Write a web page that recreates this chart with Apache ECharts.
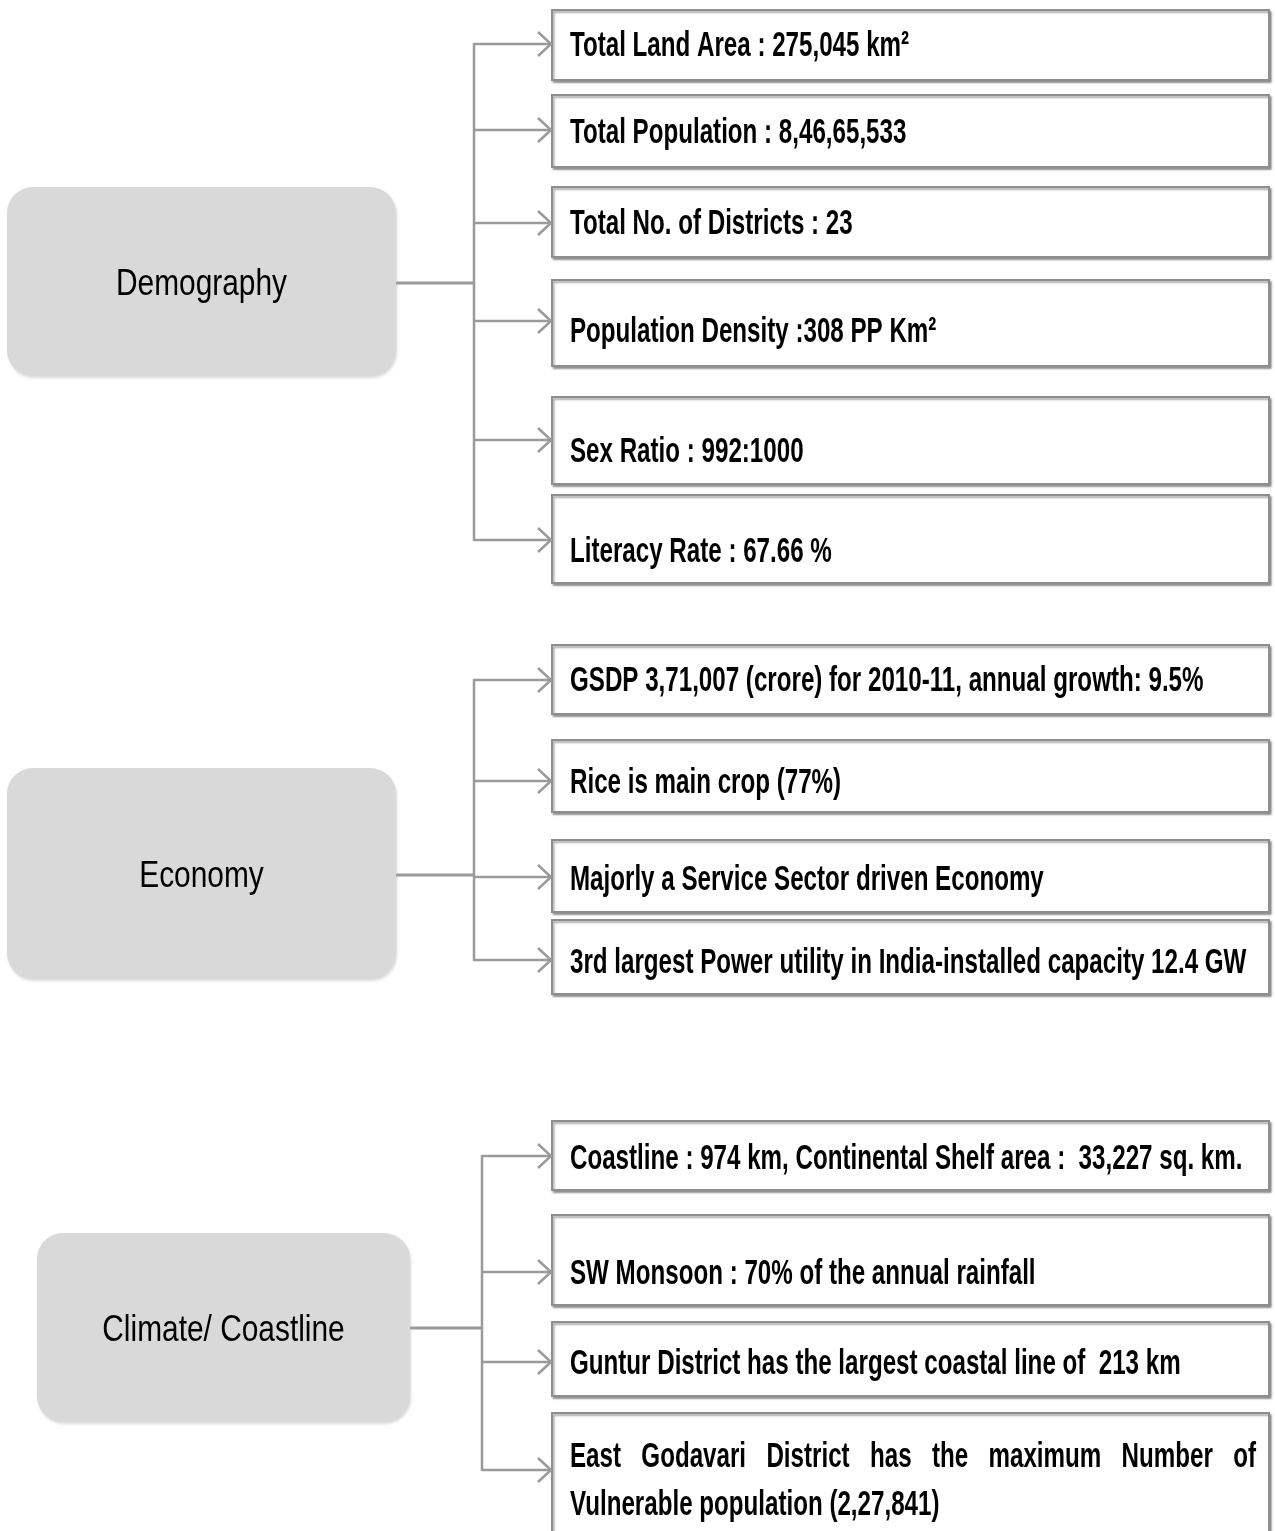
<!DOCTYPE html>
<html>
<head>
<meta charset="utf-8">
<script src="https://cdn.jsdelivr.net/npm/echarts@6/dist/echarts.min.js"></script>
<style>
html,body{margin:0;padding:0;background:#fff;}
#chart{width:1275px;height:1531px;}
</style>
</head>
<body>
<div id="chart"></div>
<script>
// ---------------- DATA ----------------
const groupNames = ['Demography', 'Economy', 'Climate/ Coastline'];
const demographyItems = [
  'Total Land Area : 275,045 km\u00B2',
  'Total Population : 8,46,65,533',
  'Total No. of Districts : 23',
  'Population Density :308 PP Km\u00B2',
  'Sex Ratio : 992:1000',
  'Literacy Rate : 67.66 %'
];
const economyItems = [
  'GSDP 3,71,007 (crore) for 2010-11, annual growth: 9.5%',
  'Rice is main crop (77%)',
  'Majorly a Service Sector driven Economy',
  '3rd largest Power utility in India-installed capacity 12.4 GW'
];
const climateItems = [
  'Coastline : 974 km, Continental Shelf area :  33,227 sq. km.',
  'SW Monsoon : 70% of the annual rainfall',
  'Guntur District has the largest coastal line of  213 km',
  'East Godavari District has the maximum Number of\nVulnerable population (2,27,841)'
];
const groupItems = [demographyItems, economyItems, climateItems];

// ---------------- LAYOUT (diagram geometry, in canvas units) ----------------
const W = 1275, H = 1531;
// hub boxes: [x0, y0, x1, y1, trunkX, stemY]
const hubLayout = [
  [7, 187, 396, 376, 474, 283],
  [7, 768, 396, 979, 474, 875],
  [37, 1233, 410, 1422, 482, 1328]
];
// item boxes per group: [top, bottom, arrowY, textY(first line)]
const itemLayout = [
  [[10, 80, 44, 46], [95, 167, 130, 133], [187, 257, 223, 224], [280, 366, 321, 332], [397, 484, 440, 452], [495, 583, 540, 552]],
  [[645, 714, 680, 681], [740, 812, 781, 783], [840, 912, 877, 880], [920, 994, 960, 963]],
  [[1121, 1190, 1156, 1159], [1215, 1305, 1272, 1274], [1322, 1396, 1362, 1364], [1413, 1545, 1470, 1457]]
];
const BOX_X0 = 552, BOX_X1 = 1269, TEXT_X0 = 570, TEXT_X1 = 1256, ARROW_TIP = 551;
const LINE_GAP = 48;

const FONT_FAMILY = '"Liberation Sans", Arial, Helvetica, sans-serif';
const ITEM_FONT = 'bold 35px ' + FONT_FAMILY;
const ITEM_SCALE = 0.69;
const HUB_FONT = 'normal 36px ' + FONT_FAMILY;
const HUB_SCALE = 0.83;
const LINE_COLOR = '#9a9a9a';

const measureCtx = document.createElement('canvas').getContext('2d');
function measure(text, font) { measureCtx.font = font; return measureCtx.measureText(text).width; }

function textEl(text, x, y, font, scale) {
  return {
    type: 'text', x: x, y: y, scaleX: scale, originX: 0, originY: 0,
    style: { text: text, x: 0, y: 0, font: font, fill: '#000',
      align: 'left', verticalAlign: 'middle', textAlign: 'left', textVerticalAlign: 'middle' }
  };
}

const hubData = groupNames.map((n, i) => [i]);
const itemData = [];
groupItems.forEach((arr, g) => arr.forEach((t, i) => itemData.push([g, i])));

function renderHub(params, api) {
  const g = api.value(0);
  const L = hubLayout[g];
  const p0 = api.coord([L[0], L[1]]), p1 = api.coord([L[2], L[3]]);
  const cx = (p0[0] + p1[0]) / 2, cy = (p0[1] + p1[1]) / 2;
  const ps = api.coord([L[2], L[5]]), pt = api.coord([L[4], L[5]]);
  const items = itemLayout[g];
  const top = api.coord([L[4], items[0][2]]), bot = api.coord([L[4], items[items.length - 1][2]]);
  const tw = measure(groupNames[g], HUB_FONT) * HUB_SCALE;
  return { type: 'group', children: [
    { type: 'rect', shape: { x: p0[0], y: p0[1], width: p1[0] - p0[0], height: p1[1] - p0[1], r: 26 },
      style: { fill: '#d9d9d9', shadowBlur: 3, shadowOffsetX: 1, shadowOffsetY: 2, shadowColor: 'rgba(0,0,0,0.15)' } },
    textEl(groupNames[g], cx - tw / 2, cy + 4, HUB_FONT, HUB_SCALE),
    { type: 'line', shape: { x1: ps[0], y1: ps[1], x2: pt[0], y2: pt[1] }, style: { stroke: LINE_COLOR, lineWidth: 3 } },
    { type: 'line', shape: { x1: top[0], y1: top[1] - 1, x2: bot[0], y2: bot[1] + 1 }, style: { stroke: LINE_COLOR, lineWidth: 2.5 } }
  ] };
}

function renderItem(params, api) {
  const g = api.value(0), i = api.value(1);
  const L = itemLayout[g][i];
  const hub = hubLayout[g];
  const p0 = api.coord([BOX_X0, L[0]]), p1 = api.coord([BOX_X1, L[1]]);
  const a0 = api.coord([hub[4], L[2]]), a1 = api.coord([ARROW_TIP, L[2]]);
  const children = [
    { type: 'rect', shape: { x: p0[0], y: p0[1], width: p1[0] - p0[0], height: p1[1] - p0[1] },
      style: { fill: '#fff', stroke: '#8e8e8e', lineWidth: 2, shadowBlur: 2, shadowOffsetX: 1.5, shadowOffsetY: 2, shadowColor: 'rgba(0,0,0,0.35)' } },
    { type: 'line', shape: { x1: a0[0], y1: a0[1], x2: a1[0] - 1, y2: a1[1] }, style: { stroke: LINE_COLOR, lineWidth: 2.5 } },
    { type: 'polyline', shape: { points: [[a1[0] - 13, a1[1] - 12], [a1[0], a1[1]], [a1[0] - 13, a1[1] + 12]] },
      style: { stroke: LINE_COLOR, lineWidth: 2.5, fill: null } }
  ];
  const lines = groupItems[g][i].split('\n');
  const tx0 = api.coord([TEXT_X0, 0])[0], tx1 = api.coord([TEXT_X1, 0])[0];
  lines.forEach((line, li) => {
    const ty = api.coord([0, L[3] + li * LINE_GAP])[1];
    if (lines.length > 1 && li < lines.length - 1) {
      const words = line.split(/\s+/);
      const widths = words.map(w => measure(w, ITEM_FONT) * ITEM_SCALE);
      const total = widths.reduce((a, b) => a + b, 0);
      const gap = (tx1 - tx0 - total) / (words.length - 1);
      let x = tx0;
      words.forEach((w, k) => {
        children.push(textEl(w, x, ty, ITEM_FONT, ITEM_SCALE));
        x += widths[k] + gap;
      });
    } else {
      children.push(textEl(line, tx0, ty, ITEM_FONT, ITEM_SCALE));
    }
  });
  return { type: 'group', children: children };
}

const chart = echarts.init(document.getElementById('chart'), null, { renderer: 'canvas' });
chart.setOption({
  backgroundColor: '#fff',
  animation: false,
  grid: { left: 0, right: 0, top: 0, bottom: 0 },
  xAxis: { type: 'value', min: 0, max: W, show: false },
  yAxis: { type: 'value', min: 0, max: H, inverse: true, show: false },
  series: [
    { type: 'custom', name: 'items', data: itemData, renderItem: renderItem, clip: false, silent: true },
    { type: 'custom', name: 'groups', data: hubData, renderItem: renderHub, clip: false, silent: true }
  ]
});
</script>
</body>
</html>
